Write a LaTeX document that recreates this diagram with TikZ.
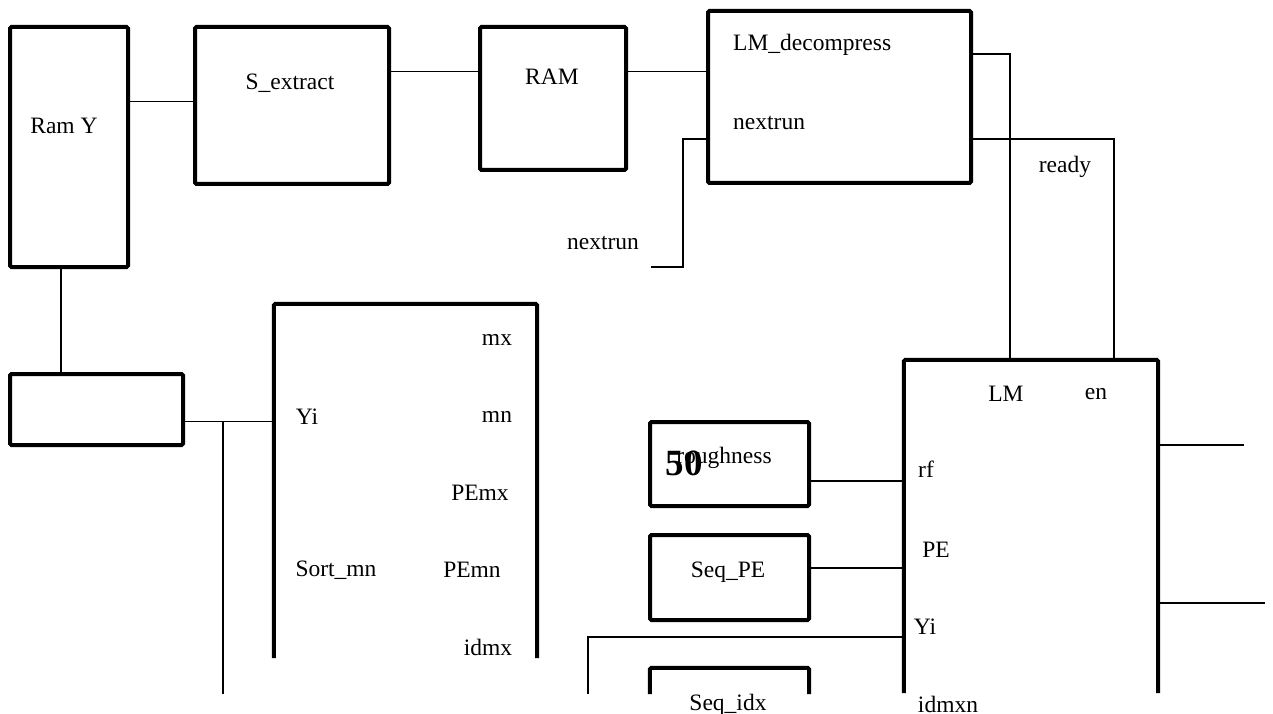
\documentclass[tikz,border=0pt]{standalone}
\usepackage{fontspec}
\setmainfont{Liberation Serif}
\usetikzlibrary{positioning,calc}

\begin{document}
\begin{tikzpicture}[x=1pt, y=-1pt,
        blkbox/.style={rectangle, rounded corners=1.5pt, draw=black, line width=4pt,
                       inner sep=0pt},
        openbox/.style={rectangle, draw=none, inner sep=0pt},
        blkline/.style={line width=4pt, rounded corners=1.5pt},
        wire/.style={line width=1.5pt},
        lbl/.style={inner sep=0pt, font=\fontsize{23.5}{28}\selectfont}
      ]
        \useasboundingbox (0,0) rectangle (1273,714);

        % memory chain
        \node[blkbox, minimum width=118pt, minimum height=240pt] (ramy) at (69,147) {};
        \node[blkbox, minimum width=194pt, minimum height=157pt] (sext) at (292,105.5) {};
        \node[blkbox, minimum width=146pt, minimum height=143pt] (ram)  at (553,98.5) {};
        \node[blkbox, minimum width=263pt, minimum height=172pt] (lmd)  at (839.5,97) {};
        \node[blkbox, minimum width=173pt, minimum height=71pt]  (sel)  at (96.5,409.5) {};

        \node[lbl] (ramyt) at (64,126) {Ram Y};
        \node[lbl] (sextt) at (290,83) {S\_extract};
        \node[lbl] (ramt)  at (552,77) {RAM};
        \node[lbl, anchor=west] (lmdt) at (733,45)  {LM\_decompress};
        \node[lbl, anchor=west] (lmdn) at (733,123) {nextrun};
        \node[lbl] (nxt)   at (603,243) {nextrun};
        \node[lbl] (rdy)   at (1065,167) {ready};

        \draw[wire] ([yshift=4pt]sext.west) -- ([yshift=4pt]sext.west -| ramy.east);
        \draw[wire] ([yshift=34pt]sext.east) -- ([yshift=34pt]sext.east -| ram.west);
        \draw[wire] ([yshift=27pt]ram.east) -- ([yshift=27pt]ram.east -| lmd.west);
        \coordinate (nxin) at (651,267);
        \draw[wire] ([yshift=-42pt]lmd.west) -- ++(-23,0) |- (nxin);
        \draw[wire] ([xshift=-8pt]ramy.south) -- ([xshift=-8pt]ramy.south |- sel.north);

        % sorting block
        \node[openbox, minimum width=263pt, minimum height=354pt] (sort) at (405.5,481) {};
        \draw[blkline] (sort.south west) |- (sort.north east) -- (sort.south east);
        \draw[wire] ([yshift=-12pt]sel.east) -- ([yshift=-12pt]sel.east -| sort.west);
        \coordinate (ybus) at (223,694);
        \draw[wire] ([yshift=-12pt]sel.east -| ybus) -- (ybus);

        \node[lbl] (smx)   at (497,340) {mx};
        \node[lbl] (syi)   at (307,417) {Yi};
        \node[lbl] (smn)   at (497,417) {mn};
        \node[lbl] (spemx) at (480,493) {PEmx};
        \node[lbl] (sname) at (336,570) {Sort\_mn};
        \node[lbl] (spemn) at (472,570) {PEmn};
        \node[lbl] (sidmx) at (488,647) {idmx};

        % LM block
        \node[openbox, minimum width=254pt, minimum height=333pt] (lm) at (1031,526.5) {};
        \draw[blkline] (lm.south west) |- (lm.north east) -- (lm.south east);
        \draw[wire] ([yshift=43pt]lmd.east) -| ([xshift=-21pt]lm.north);
        \draw[wire] ([yshift=-42pt]lmd.east) -| ([xshift=83pt]lm.north);

        \node[lbl] (lmt)   at (1006,394) {LM};
        \node[lbl] (lmen)  at (1096,394) {en};
        \node[lbl] (lmrf)  at (926,469)  {rf};
        \node[lbl] (lmpe)  at (936,550)  {PE};
        \node[lbl] (lmyi)  at (925,627)  {Yi};
        \node[lbl] (lmidx) at (948,704)  {idmxn};

        \coordinate (enout) at (1244,445);
        \coordinate (lmout) at (1265,603);
        \draw[wire] (lm.east |- enout) -- (enout);
        \draw[wire] (lm.east |- lmout) -- (lmout);

        % sequencers
        \node[blkbox, minimum width=159pt, minimum height=84pt] (rough) at (729.5,464) {};
        \node[blkbox, minimum width=159pt, minimum height=85pt] (seqpe) at (729.5,577.5) {};
        \node[openbox, minimum width=159pt, minimum height=26pt] (seqidx) at (729.5,681) {};
        \draw[blkline] (seqidx.south west) |- (seqidx.north east) -- (seqidx.south east);

        \node[lbl] (rought) at (724,458) {roughness};
        \node[inner sep=0pt, font=\fontsize{37}{40}\selectfont\bfseries] (num) at (684,463) {50};
        \node[lbl] (seqpet)  at (728,572) {Seq\_PE};
        \node[lbl] (seqidxt) at (728,705) {Seq\_idx};

        \draw[wire] ([yshift=-17pt]rough.east) -- ([yshift=-17pt]rough.east -| lm.west);
        \draw[wire] ([yshift=9.5pt]seqpe.east) -- ([yshift=9.5pt]seqpe.east -| lm.west);
        \coordinate (yiend) at (588,694);
        \draw[wire] ([yshift=-110.5pt]lm.west) -| (yiend);
      \end{tikzpicture}
\end{document}
